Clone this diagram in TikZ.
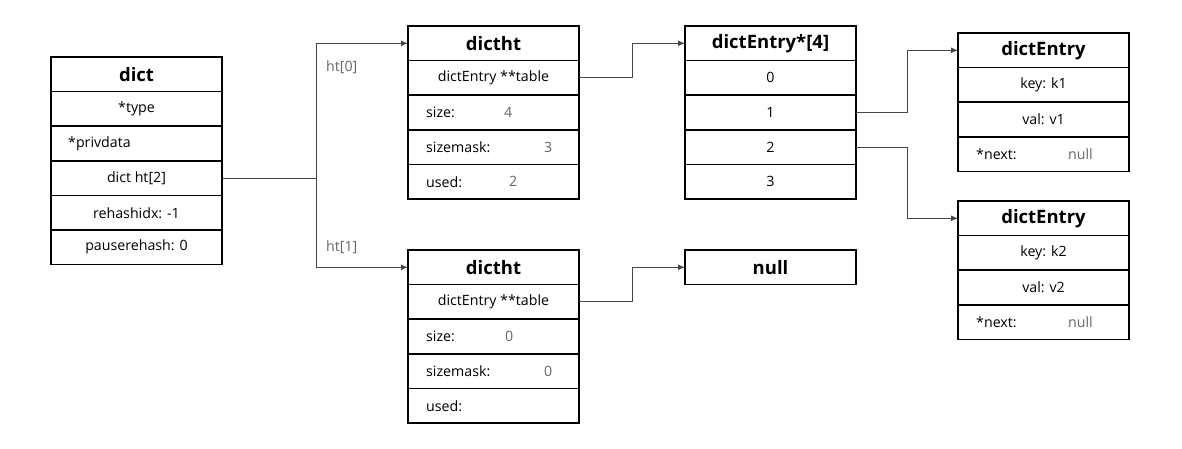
\documentclass[tikz,border=0pt]{standalone}
\usepackage{fontspec}
\setmainfont{Open Sans}
\usetikzlibrary{positioning,arrows.meta}

\colorlet{linkgray}{black!72}
\colorlet{valgray}{black!60}

\begin{document}
\begin{tikzpicture}[x=1pt,y=-1pt,node distance=0pt,
    box/.style={draw, line width=1.6pt, minimum width=171pt, minimum height=34.6pt,
        inner sep=0pt, outer sep=0pt, font=\fontsize{14.2}{16}\selectfont},
    head/.style={box, font=\fontsize{18.5}{20}\selectfont\bfseries},
    key/.style={anchor=west, inner sep=0pt, font=\fontsize{14.2}{16}\selectfont},
    val/.style={key, text=valgray},
    lbl/.style={key, text=valgray},
    link/.style={draw=linkgray, line width=1pt, -{Latex[length=7pt,width=6pt]}}]
    \useasboundingbox (0,0) rectangle (1182,448);

    % dict
    \node[head, anchor=north west] (dh) at (51,57) {dict};
    \node[box] (dtype) [below=of dh] {*type};
    \node[box] (dpriv) [below=of dtype] {};
    \node[key] (dprivk) at ([xshift=17pt]dpriv.west) {*privdata};
    \node[box] (dht) [below=of dpriv] {dict ht[2]};
    \node[box] (drehash) [below=of dht] {rehashidx: -1};
    \node[box] (dpause) [below=of drehash] {pauserehash: 0};

    % ht[0]
    \node[head, anchor=north west] (h0) at (408,26) {dictht};
    \node[box] (h0tab) [below=of h0] {dictEntry **table};
    \node[box] (h0size) [below=of h0tab] {};
    \node[box] (h0mask) [below=of h0size] {};
    \node[box] (h0used) [below=of h0mask] {};
    \node[key] (h0sizek) at ([xshift=18pt]h0size.west) {size:};
    \node[val] (h0sizev) at ([xshift=96pt]h0size.west) {4};
    \node[key] (h0maskk) at ([xshift=18pt]h0mask.west) {sizemask:};
    \node[val] (h0maskv) at ([xshift=136pt]h0mask.west) {3};
    \node[key] (h0usedk) at ([xshift=18pt]h0used.west) {used:};
    \node[val] (h0usedv) at ([xshift=101pt]h0used.west) {2};

    % ht[1]
    \node[head, anchor=north west] (h1) at (408,250) {dictht};
    \node[box] (h1tab) [below=of h1] {dictEntry **table};
    \node[box] (h1size) [below=of h1tab] {};
    \node[box] (h1mask) [below=of h1size] {};
    \node[box] (h1used) [below=of h1mask] {};
    \node[key] (h1sizek) at ([xshift=18pt]h1size.west) {size:};
    \node[val] (h1sizev) at ([xshift=97pt]h1size.west) {0};
    \node[key] (h1maskk) at ([xshift=18pt]h1mask.west) {sizemask:};
    \node[val] (h1maskv) at ([xshift=136pt]h1mask.west) {0};
    \node[key] (h1usedk) at ([xshift=18pt]h1used.west) {used:};

    % table
    \node[head, anchor=north west] (tb) at (685,26) {dictEntry*[4]};
    \node[box] (tb0) [below=of tb] {0};
    \node[box] (tb1) [below=of tb0] {1};
    \node[box] (tb2) [below=of tb1] {2};
    \node[box] (tb3) [below=of tb2] {3};
    \node[head, anchor=north west] (nul) at (685,250) {null};

    % entries
    \node[head, anchor=north west] (e1) at (958,33) {dictEntry};
    \node[box] (e1key) [below=of e1] {key: k1};
    \node[box] (e1val) [below=of e1key] {val: v1};
    \node[box] (e1next) [below=of e1val] {};
    \node[key] (e1nextk) at ([xshift=18pt]e1next.west) {*next:};
    \node[val] (e1nextv) at ([xshift=110pt]e1next.west) {null};

    \node[head, anchor=north west] (e2) at (958,201) {dictEntry};
    \node[box] (e2key) [below=of e2] {key: k2};
    \node[box] (e2val) [below=of e2key] {val: v2};
    \node[box] (e2next) [below=of e2val] {};
    \node[key] (e2nextk) at ([xshift=18pt]e2next.west) {*next:};
    \node[val] (e2nextv) at ([xshift=110pt]e2next.west) {null};

    % links
    \coordinate (split) at ([xshift=94pt]dht.east);
    \draw[linkgray, line width=1pt] (dht.east) -- (split);
    \draw[link] (split) |- (h0.west);
    \draw[link] (split) |- (h1.west);
    \node[lbl] (lbl0) at (326,67) {ht[0]};
    \node[lbl] (lbl1) at (326,247) {ht[1]};

    \draw[link] (h0tab.east) -- ++(53,0) |- (tb.west);
    \draw[link] (h1tab.east) -- ++(53,0) |- (nul.west);
    \draw[link] (tb1.east) -- ++(51,0) |- (e1.west);
    \draw[link] (tb2.east) -- ++(51,0) |- (e2.west);
\end{tikzpicture}
\end{document}
